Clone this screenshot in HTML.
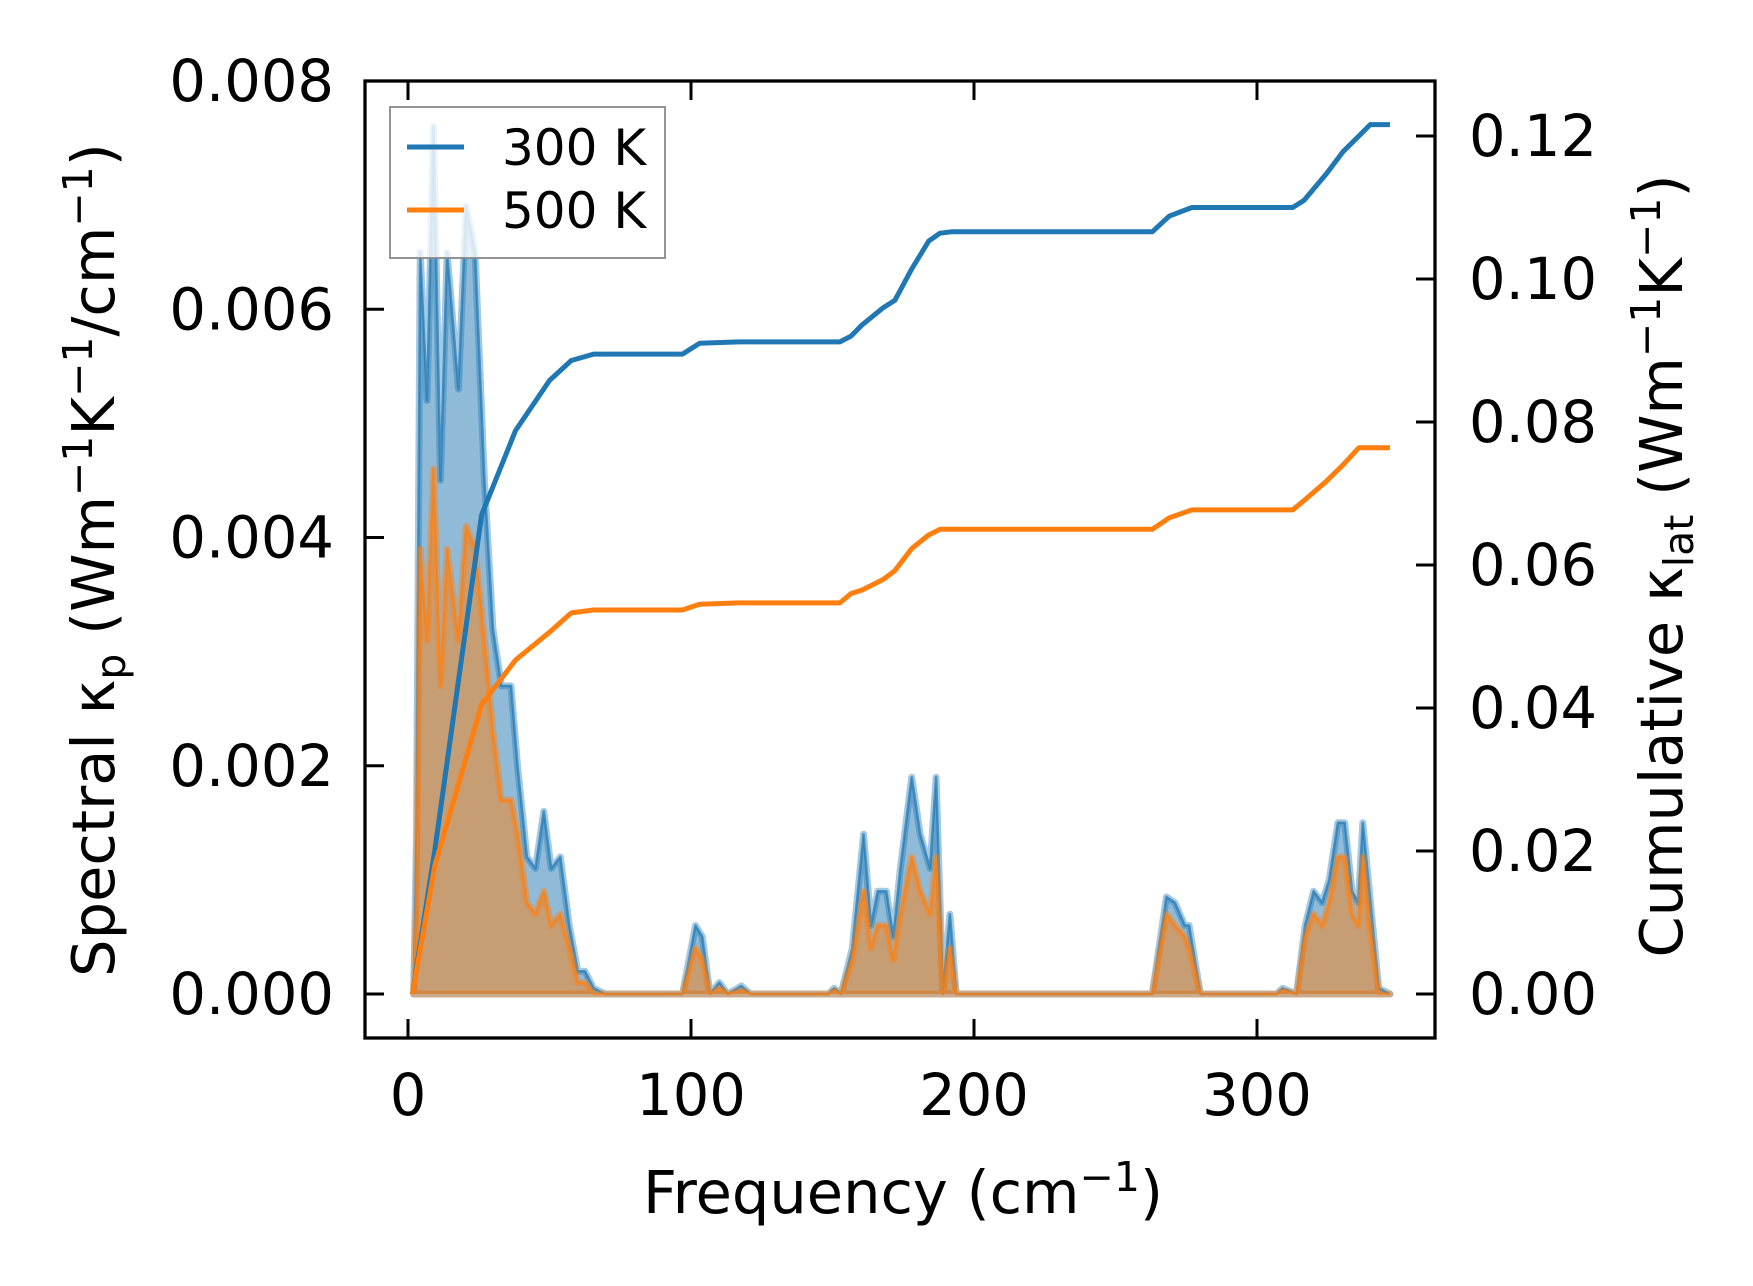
<!DOCTYPE html>
<html><head><meta charset="utf-8"><style>
html,body{margin:0;padding:0;background:#fff;}
svg{display:block;font-family:"DejaVu Sans","Liberation Sans",sans-serif;}
</style></head><body>
<svg id="chart" width="1753" height="1286" viewBox="0 0 1753 1286" xmlns="http://www.w3.org/2000/svg">
<rect width="1753" height="1286" fill="#fff"/>
<g id="plot"></g>
<g id="axes"></g>
</svg>
<script>
const freq = [2,3,4.3,6.7,9,11.5,13.8,17.8,20.5,23.7,27,30,33,36.4,38.7,42,45,48,50.6,53.8,57,60,62.5,65.6,69.6,97,101.6,104,106.7,110,113,117.8,121,148.6,150.6,153,157,161,163.6,166,169,171.5,174,178,181,184.5,186.6,189,191.5,193.7,263,268,271,274.5,276,280,307,309,314,317,320,323,325.5,328.6,331,333.6,335.8,337.4,339.7,343,347];
const spectral300 = [0,0.0014,0.0065,0.0052,0.0076,0.0045,0.0065,0.0053,0.0069,0.0065,0.0045,0.0032,0.0027,0.0027,0.0020,0.0012,0.0011,0.0016,0.0011,0.0012,0.0006,0.0002,0.0002,0.00005,0,0,0.0006,0.0005,0,0.0001,0,0.00007,0,0,0.00005,0,0.0004,0.0014,0.0006,0.0009,0.0009,0.0005,0.0011,0.0019,0.0014,0.0011,0.0019,0,0.0007,0,0,0.00085,0.0008,0.0006,0.0006,0,0,0.00005,0,0.0006,0.0009,0.0008,0.0010,0.0015,0.0015,0.0009,0.0008,0.0015,0.0009,0.00005,0];
const spectral500 = [0,0.0008,0.0039,0.0031,0.0046,0.0027,0.0039,0.0031,0.0041,0.0039,0.0031,0.0023,0.0017,0.0017,0.0014,0.0008,0.0007,0.0009,0.0006,0.0007,0.0004,0.0001,0.0001,0,0,0,0.0004,0.0003,0,0.00005,0,0.00003,0,0,0.00003,0,0.0003,0.0009,0.0004,0.0006,0.0006,0.0003,0.0007,0.0012,0.0009,0.0007,0.0012,0,0.0004,0,0,0.0007,0.0006,0.0005,0.0004,0,0,0.00003,0,0.0005,0.0007,0.0006,0.0008,0.0012,0.0012,0.0007,0.0006,0.0012,0.0006,0,0];
const cumFreq = [1.6,9.5,26,38,50,57.7,65.6,97,103,117,152.6,156.5,160.5,168,172,178,184,188,192,263,269,277,312.6,316.6,324.5,330.4,336,340,347];
const cum300 = [0,0.0202,0.067,0.0788,0.0858,0.0886,0.0895,0.0895,0.091,0.0912,0.0912,0.092,0.0936,0.096,0.097,0.1014,0.1053,0.1064,0.1066,0.1066,0.1088,0.110,0.110,0.111,0.1147,0.1178,0.120,0.1216,0.1216];
const cum500 = [0,0.018,0.0405,0.0467,0.0506,0.0533,0.0537,0.0537,0.0545,0.0547,0.0547,0.056,0.0565,0.058,0.0592,0.0623,0.0642,0.065,0.065,0.065,0.0666,0.0677,0.0677,0.069,0.0717,0.074,0.0764,0.0764,0.0764];
const xTicks = [0,100,200,300];
const yLeftTicks = [0,0.002,0.004,0.006,0.008];
const yLeftLabels = ["0.000","0.002","0.004","0.006","0.008"];
const yRightTicks = [0,0.02,0.04,0.06,0.08,0.10,0.12];
const yRightLabels = ["0.00","0.02","0.04","0.06","0.08","0.10","0.12"];

const L=365,R=1435,T=81,B=1038;
const X = v => 408 + v*2.83;
const YL = v => 994 - v*(994-81)/0.008;
const YR = v => 994 - v*(994-136)/0.12;
const NS="http://www.w3.org/2000/svg";
const plot=document.getElementById('plot'), axes=document.getElementById('axes');
function mk(tag,attrs,parent){const e=document.createElementNS(NS,tag);for(const k in attrs)e.setAttribute(k,attrs[k]);parent.appendChild(e);return e;}

function spectral(vals,color,name){
  let d='M'+X(freq[0])+','+YL(0);
  freq.forEach((f,i)=>{d+=' L'+X(f).toFixed(1)+','+YL(vals[i]).toFixed(1);});
  d+=' L'+X(freq[freq.length-1])+','+YL(0)+' Z';
  const a=mk('path',{d:d,fill:color,'fill-opacity':0.5,stroke:color,'stroke-opacity':0.4,'stroke-width':7,'stroke-linejoin':'round'},plot);
  
  
  let ld='';
  freq.forEach((f,i)=>{ld+=(i?' L':'M')+X(f).toFixed(1)+','+YL(vals[i]).toFixed(1);});
  const b=mk('path',{d:ld,fill:'none',stroke:color,'stroke-opacity':0.7,'stroke-width':2.5,'stroke-linejoin':'round'},plot);
  
  
}
spectral(spectral300,'#1f77b4','spectral-300k');
spectral(spectral500,'#ff7f0e','spectral-500k');

function cum(vals,color,name){
  let d='';
  cumFreq.forEach((f,i)=>{d+=(i?' L':'M')+X(f).toFixed(1)+','+YR(vals[i]).toFixed(1);});
  const p=mk('path',{d:d,fill:'none',stroke:color,'stroke-width':5,'stroke-linejoin':'round'},plot);
  
  
}
cum(cum300,'#1f77b4','cumulative-300k');
cum(cum500,'#ff7f0e','cumulative-500k');

const fr=mk('rect',{x:L,y:T,width:R-L,height:B-T,fill:'none',stroke:'#000','stroke-width':3.3},axes);


const TL=19, FS=57.5;
xTicks.forEach(v=>{
  const x=X(v);
  mk('line',{x1:x,y1:B,x2:x,y2:B-TL,stroke:'#000','stroke-width':3},axes);
  mk('line',{x1:x,y1:T,x2:x,y2:T+TL,stroke:'#000','stroke-width':3},axes);
  const t=mk('text',{x:x,y:1115,'font-size':FS,'text-anchor':'middle'},axes);
  t.textContent=String(v);
  
  
});
yLeftTicks.forEach((v,i)=>{
  const y=YL(v);
  mk('line',{x1:L,y1:y,x2:L+TL,y2:y,stroke:'#000','stroke-width':3},axes);
  const t=mk('text',{x:334,y:y+20,'font-size':FS,'text-anchor':'end'},axes);
  t.textContent=yLeftLabels[i];
  
  
});
yRightTicks.forEach((v,i)=>{
  const y=YR(v);
  mk('line',{x1:R,y1:y,x2:R-TL,y2:y,stroke:'#000','stroke-width':3},axes);
  const t=mk('text',{x:1469,y:y+20,'font-size':FS,'text-anchor':'start'},axes);
  t.textContent=yRightLabels[i];
  
  
});
</script>
<svg style="position:absolute;left:0;top:0" width="1753" height="1286" viewBox="0 0 1753 1286" xmlns="http://www.w3.org/2000/svg" font-family="DejaVu Sans, Liberation Sans, sans-serif">
<text x="903" y="1213" font-size="59" text-anchor="middle">Frequency (cm<tspan font-size="41" dy="-22">−1</tspan><tspan dy="22">)</tspan></text>
<text transform="translate(114,560) rotate(-90)" font-size="59" text-anchor="middle">Spectral κ<tspan font-size="41" dy="11">p</tspan><tspan dy="-11"> (Wm</tspan><tspan font-size="41" dy="-22">−1</tspan><tspan dy="22">K</tspan><tspan font-size="41" dy="-22">−1</tspan><tspan dy="22">/cm</tspan><tspan font-size="41" dy="-22">−1</tspan><tspan dy="22">)</tspan></text>
<text transform="translate(1682,566) rotate(-90)" font-size="59" text-anchor="middle">Cumulative κ<tspan font-size="41" dy="11">lat</tspan><tspan dy="-11"> (Wm</tspan><tspan font-size="41" dy="-22">−1</tspan><tspan dy="22">K</tspan><tspan font-size="41" dy="-22">−1</tspan><tspan dy="22">)</tspan></text>
<g>
<rect x="390" y="107" width="275" height="151" fill="#fff" fill-opacity="0.8" stroke="#888" stroke-width="1.8"/>
<line x1="407" y1="147" x2="464" y2="147" stroke="#1f77b4" stroke-width="5"/>
<text x="502" y="165" font-size="50">300 K</text>
<line x1="407" y1="210" x2="464" y2="210" stroke="#ff7f0e" stroke-width="5"/>
<text x="502" y="228" font-size="50">500 K</text>
</g>
</svg>
</body></html>
